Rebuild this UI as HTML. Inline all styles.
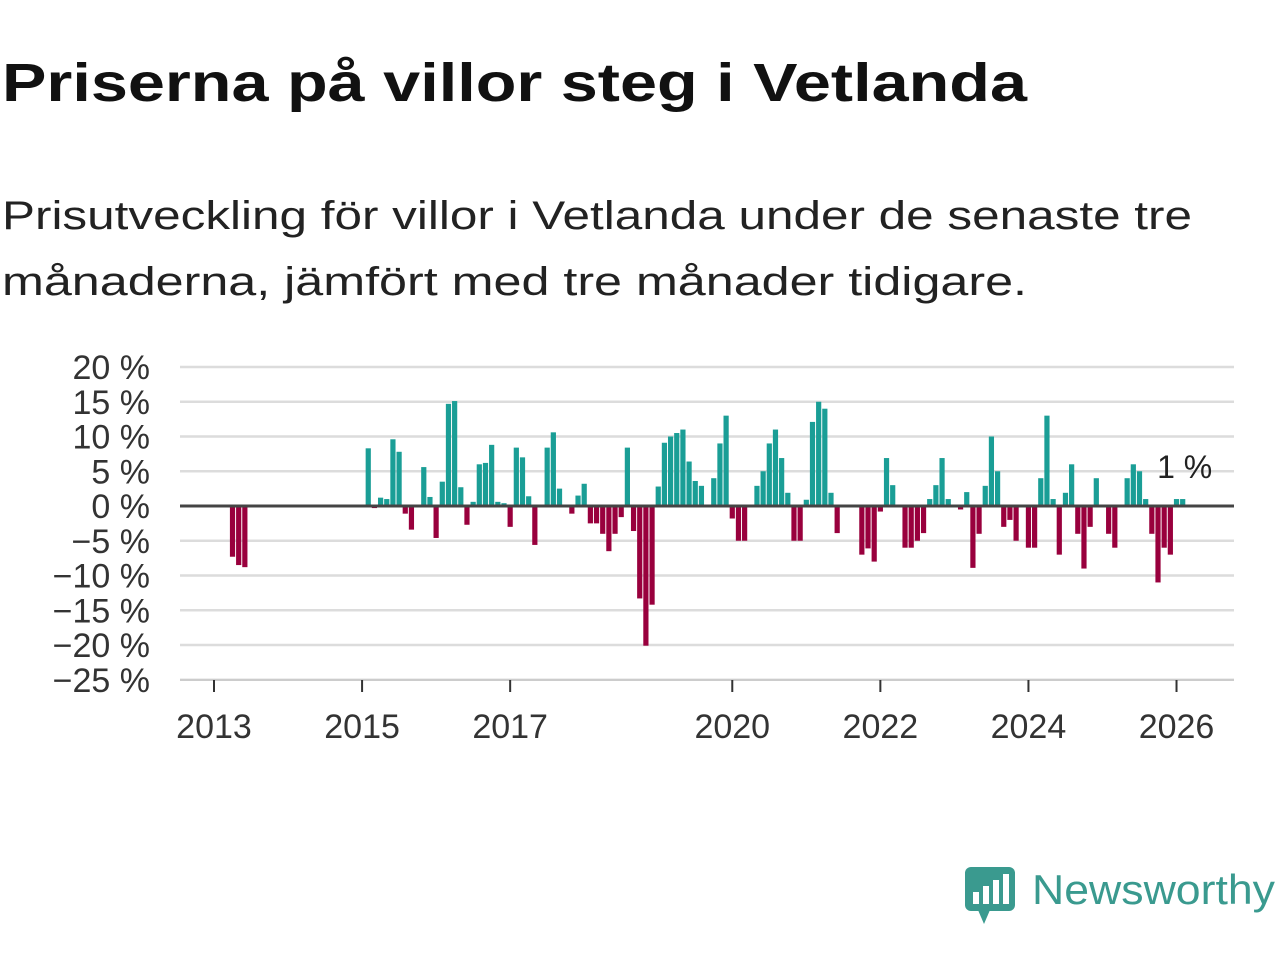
<!DOCTYPE html>
<html><head><meta charset="utf-8"><style>
body{margin:0;background:#fff;}
svg text{font-family:"Liberation Sans",sans-serif;}
</style></head><body>
<svg id="c" width="1280" height="960" viewBox="0 0 1280 960" xmlns="http://www.w3.org/2000/svg">
<text x="2" y="101" font-size="54" font-weight="bold" fill="#111" textLength="1025" lengthAdjust="spacingAndGlyphs">Priserna på villor steg i Vetlanda</text>
<text x="2" y="229" font-size="40" fill="#222" textLength="1190" lengthAdjust="spacingAndGlyphs">Prisutveckling för villor i Vetlanda under de senaste tre</text>
<text x="2" y="295" font-size="40" fill="#222" textLength="1025" lengthAdjust="spacingAndGlyphs">månaderna, jämfört med tre månader tidigare.</text>
<g id="grid"></g><g id="bars"></g><g id="axes"></g>
<g>
<rect x="965" y="867" width="50" height="44" rx="6" fill="#3a9a8f"/>
<polygon points="978,910 990,910 984,924" fill="#3a9a8f"/>
<rect x="973" y="892" width="6" height="12" fill="#fff"/><rect x="983" y="886" width="6" height="18" fill="#fff"/><rect x="993" y="880" width="6" height="24" fill="#fff"/><rect x="1003" y="874" width="6" height="30" fill="#fff"/>
<text x="1032" y="904" font-size="42" fill="#3a9a8f" textLength="243" lengthAdjust="spacingAndGlyphs">Newsworthy</text>
</g>
</svg>
<script>
// month index since Jan 2013 and values (%)
const months=[3,4,5,25,26,27,28,29,30,31,32,34,35,36,37,38,39,40,41,42,43,44,45,46,47,48,49,50,51,52,54,55,56,58,59,60,61,62,63,64,65,66,67,68,69,70,71,72,73,74,75,76,77,78,79,81,82,83,84,85,86,88,89,90,91,92,93,94,95,96,97,98,99,100,101,105,106,107,108,109,110,112,113,114,115,116,117,118,119,121,122,123,124,125,126,127,128,129,130,132,133,134,135,136,137,138,139,140,141,142,143,145,146,148,149,150,151,152,153,154,155,156,157];
const values=[-7.3,-8.5,-8.8,8.3,-0.3,1.2,1.0,9.6,7.8,-1.1,-3.4,5.6,1.3,-4.6,3.5,14.7,15.1,2.7,-2.7,0.6,6.0,6.2,8.8,0.6,0.4,-3.0,8.4,7.0,1.4,-5.6,8.4,10.6,2.5,-1.1,1.5,3.2,-2.5,-2.5,-4.0,-6.5,-4.0,-1.6,8.4,-3.6,-13.3,-20.1,-14.2,2.8,9.1,10.0,10.5,11.0,6.4,3.6,2.9,4.0,9.0,13.0,-1.8,-5.0,-5.0,2.9,5.0,9.0,11.0,6.9,1.9,-5.0,-5.0,0.9,12.1,15.0,14.0,1.9,-3.9,-7.0,-6.1,-8.0,-0.8,6.9,3.0,-6.0,-6.0,-5.0,-3.9,1.0,3.0,6.9,1.0,-0.5,2.0,-8.9,-4.0,2.9,10.0,5.0,-3.0,-2.0,-5.0,-6.0,-6.0,4.0,13.0,1.0,-7.0,1.9,6.0,-4.0,-9.0,-3.0,4.0,-4.0,-6.0,4.0,6.0,5.0,1.0,-4.0,-11.0,-6.0,-7.0,1.0,1.0];
const yTicks=[20,15,10,5,0,-5,-10,-15,-20,-25];
const xTickYears=[2013,2015,2017,2020,2022,2024,2026];
const lastLabel="1 %";
const NS="http://www.w3.org/2000/svg";
const y=v=>506-v*6.95;
const x=m=>214+m*6.17;
function mk(t,a,p){const e=document.createElementNS(NS,t);for(const k in a)e.setAttribute(k,a[k]);p.appendChild(e);return e;}
const grid=document.getElementById('grid'),bars=document.getElementById('bars'),axes=document.getElementById('axes');
yTicks.forEach(v=>{
 if(v!==0){const l=mk('line',{x1:180,x2:1234,y1:y(v),y2:y(v),stroke:'#dcdcdc','stroke-width':2.5},grid);
 
 }
 const t=mk('text',{x:150,y:y(v)+12,'font-size':34,'text-anchor':'end',fill:'#333'},axes);
 t.textContent=(v<0?'\u2212'+(-v):v)+' %';
 
 
});
months.forEach((m,i)=>{const v=values[i];
 const r=mk('rect',{x:x(m)-2.6,width:5.2,y:Math.min(y(v),506),height:Math.abs(y(v)-506),fill:v>=0?'#1a9e96':'#99003d'},bars);
 
 
});
const zl=mk('line',{x1:180,x2:1234,y1:506,y2:506,stroke:'#444','stroke-width':3},axes);


mk('line',{x1:180,x2:1234,y1:680,y2:680,stroke:'#ccc','stroke-width':2},axes);
xTickYears.forEach(yr=>{const px=x((yr-2013)*12);
 mk('line',{x1:px,x2:px,y1:680,y2:692,stroke:'#333','stroke-width':2},axes);
 const t=mk('text',{x:px,y:738,'font-size':34,'text-anchor':'middle',fill:'#333'},axes);
 t.textContent=yr;
 
 
});
const lm=months[months.length-1];
const lt=mk('text',{x:x(lm)+2,y:y(values[values.length-1])-21,'font-size':32,'text-anchor':'middle',fill:'#222'},axes);
lt.textContent=lastLabel;


</script>
</body></html>
